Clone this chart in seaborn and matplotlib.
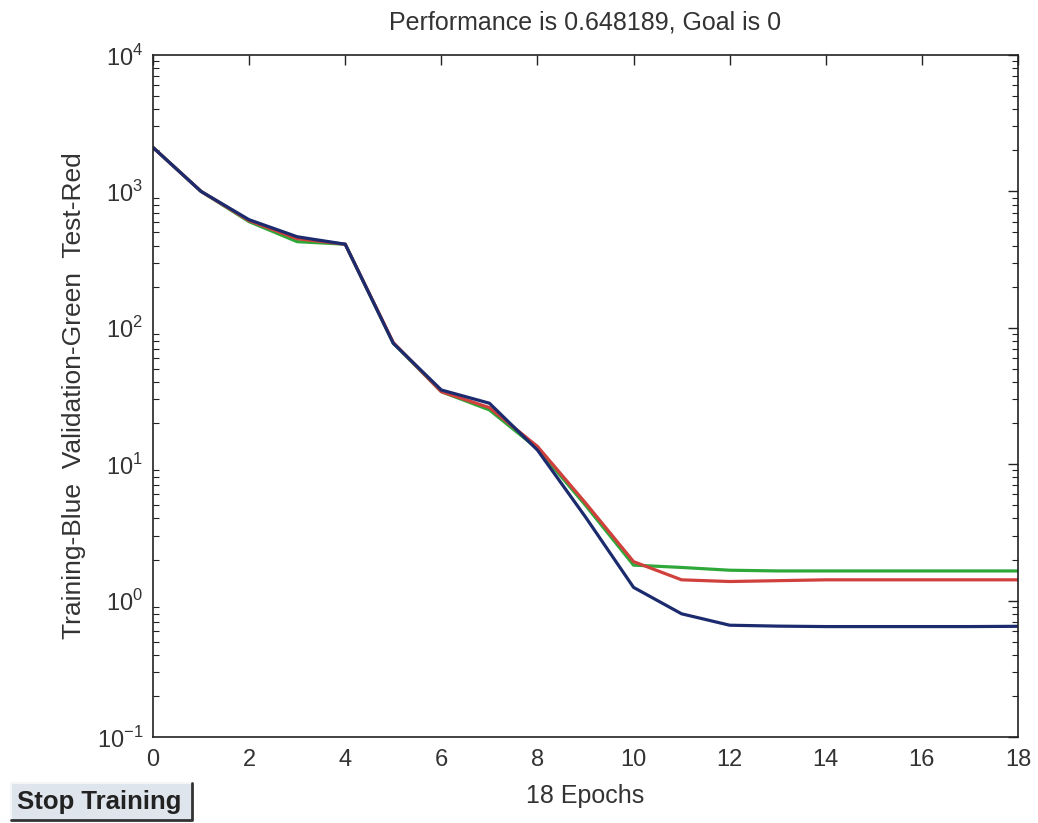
import numpy as np
import pandas as pd
import matplotlib
matplotlib.use("Agg")
import matplotlib.pyplot as plt
import seaborn as sns
from matplotlib.ticker import LogLocator, NullFormatter, MultipleLocator
from matplotlib.patches import Rectangle
from matplotlib.lines import Line2D

epochs = list(range(19))
training = [2100, 1000, 620, 465, 410, 77, 35, 28, 12.7, 4.1, 1.25, 0.80, 0.66, 0.65, 0.645, 0.645, 0.645, 0.645, 0.648]
validation = [2100, 1000, 600, 428, 410, 77, 34, 25, 13, 5.0, 1.82, 1.75, 1.67, 1.65, 1.65, 1.65, 1.65, 1.65, 1.65]
test = [2100, 1000, 610, 450, 410, 78, 34, 26, 13.5, 5.2, 1.93, 1.42, 1.38, 1.40, 1.42, 1.42, 1.42, 1.42, 1.42]

title_text = "Performance is 0.648189, Goal is 0"
ylabel_text = "Training-Blue  Validation-Green  Test-Red"
xlabel_text = "18 Epochs"
button_text = "Stop Training"

df = pd.DataFrame({
    "epoch": epochs * 3,
    "perf": validation + test + training,
    "set": ["Validation"] * 19 + ["Test"] * 19 + ["Training"] * 19,
})
palette = {"Validation": "#2fa83a", "Test": "#d0403c", "Training": "#1c2a6e"}

sns.set_style("white")
plt.rcParams["font.family"] = ["Liberation Sans", "DejaVu Sans"]
plt.rcParams["mathtext.fontset"] = "custom"
plt.rcParams["mathtext.rm"] = "Liberation Sans"

fig = plt.figure(figsize=(10.38, 8.23), dpi=100)
ax = fig.add_axes([153 / 1038, 1 - 737 / 823, (1018 - 153) / 1038, (737 - 55) / 823])

sns.lineplot(data=df, x="epoch", y="perf", hue="set", palette=palette,
             linewidth=2.3, legend=False, ax=ax)

ax.set_yscale("log")
ax.set_ylim(0.1, 1e4)
ax.set_xlim(0, 18)
ax.xaxis.set_major_locator(MultipleLocator(2))
ax.yaxis.set_minor_locator(LogLocator(base=10, subs=np.arange(2, 10), numticks=20))
ax.yaxis.set_minor_formatter(NullFormatter())
ax.set_yticks([0.1, 1, 10, 100, 1000, 10000])
ax.set_yticklabels([r"$10^{-1}$", r"$10^{0}$", r"$10^{1}$", r"$10^{2}$", r"$10^{3}$", r"$10^{4}$"])

ax.tick_params(axis="both", which="major", direction="in", length=7, width=1,
               top=True, right=True, labelsize=17, color="#222222", labelcolor="#333333")
ax.tick_params(axis="y", which="minor", direction="in", length=4, width=0.8,
               left=True, right=True, color="#222222")
ax.tick_params(axis="x", which="major", pad=9)
ax.tick_params(axis="y", which="major", pad=7)
for s in ax.spines.values():
    s.set_color("#222222")
    s.set_linewidth(1.2)

ax.set_title(title_text, fontsize=18, color="#333333", pad=18)
ax.set_xlabel(xlabel_text, fontsize=18, color="#333333", labelpad=9)
ax.set_ylabel(ylabel_text, fontsize=19, color="#333333", labelpad=8)

# "Stop Training" button
bx0, by0, bx1, by1 = 11 / 1038, 1 - 820 / 823, 192 / 1038, 1 - 783 / 823
fig.patches.append(Rectangle((bx0, by0), bx1 - bx0, by1 - by0, transform=fig.transFigure,
                             facecolor="#dfe5ec", edgecolor="none", zorder=1))
fig.lines.append(Line2D([bx0, bx0, bx1], [by0, by1, by1], transform=fig.transFigure,
                        color="#f4f6f8", linewidth=1.5))
fig.lines.append(Line2D([bx0, bx1, bx1], [by0, by0, by1], transform=fig.transFigure,
                        color="#333333", linewidth=2))
fig.text((bx0 + bx1) / 2 - 2 / 1038, (by0 + by1) / 2, button_text, fontsize=18.5, fontweight="bold",
         va="center", ha="center", color="#222222", zorder=3)

fig.savefig("out.png", dpi=100, facecolor="white")
